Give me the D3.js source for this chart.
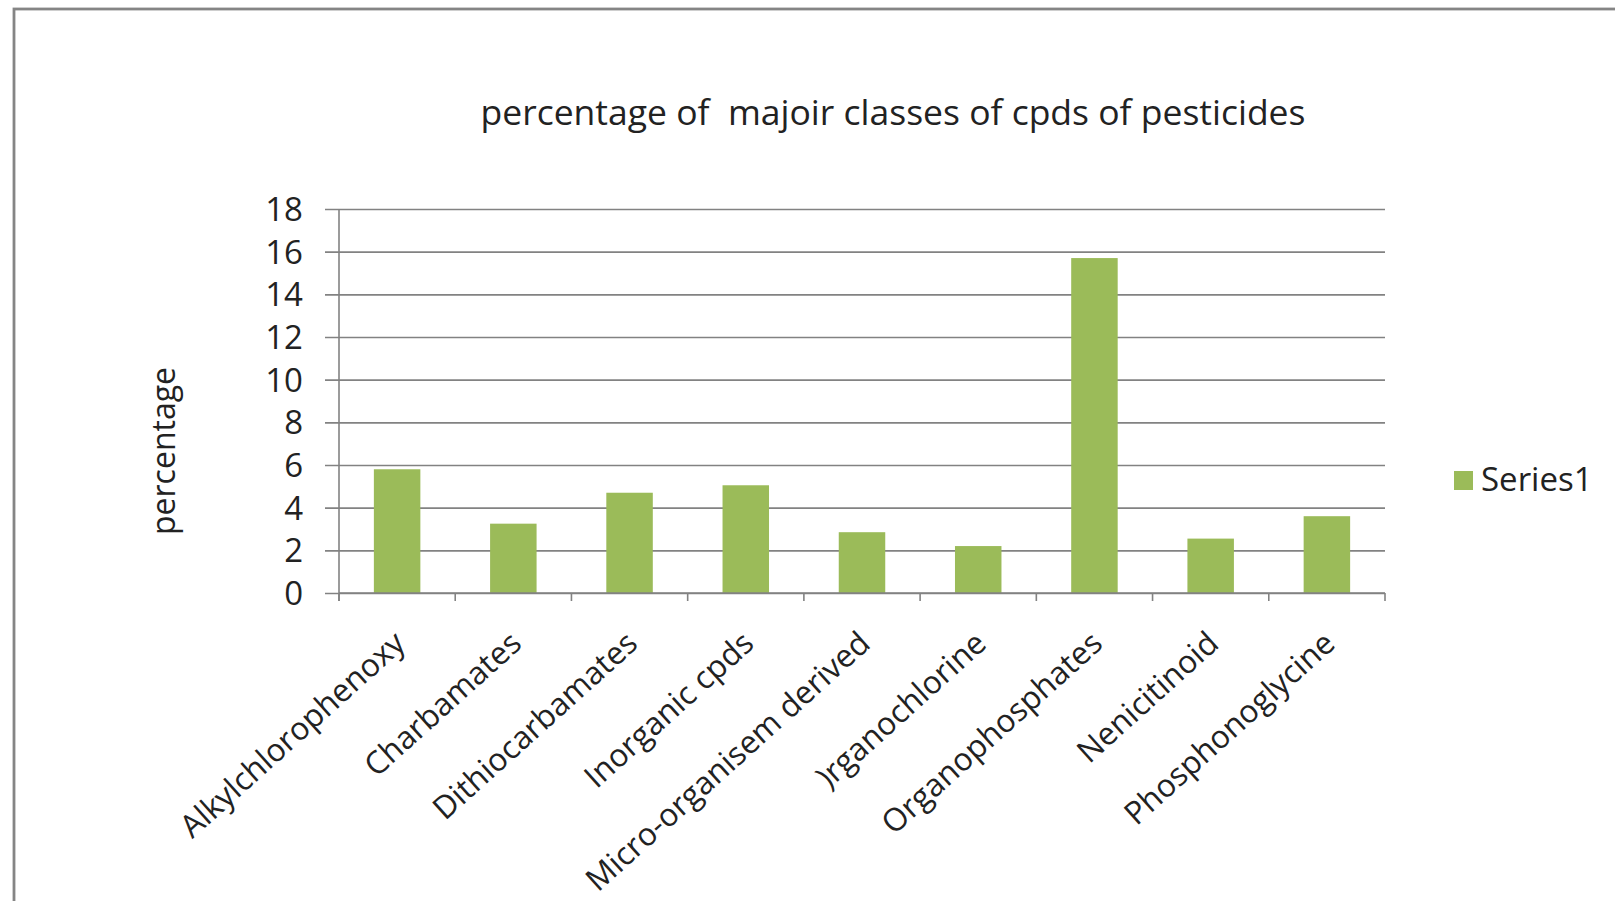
<!DOCTYPE html>
<html>
<head>
<meta charset="utf-8">
<script src="https://cdn.jsdelivr.net/npm/d3@7"></script>
<style>
  html, body { margin: 0; padding: 0; background: #ffffff; }
  svg { display: block; }
  text { font-family: "Open Sans", "Liberation Sans", sans-serif; fill: #222222; white-space: pre; }
</style>
</head>
<body>
<svg id="chart" width="1615" height="901"></svg>
<script>
// Pesticide classes and their share (%)
const categories = [
  "Alkylchlorophenoxy",
  "Charbamates",
  "Dithiocarbamates",
  "Inorganic cpds",
  "Micro-organisem derived",
  ")rganochlorine",
  "Organophosphates",
  "Nenicitinoid",
  "Phosphonoglycine"
];
const values = [5.8, 3.25, 4.7, 5.05, 2.85, 2.2, 15.7, 2.55, 3.6];
const yTicks = [0, 2, 4, 6, 8, 10, 12, 14, 16, 18];
const seriesName = "Series1";
const chartTitle = "percentage of  majoir classes of cpds of pesticides";
const yTitle = "percentage";

const svg = d3.select("#chart");
const barColor = "#9bbb59";
const gridColor = "#828282";

// Chart area frame
svg.append("rect")
  .attr("x", 14).attr("y", 9)
  .attr("width", 1700).attr("height", 1000)
  .attr("fill", "#ffffff")
  .attr("stroke", "#858585")
  .attr("stroke-width", 2.8);

const plot = { left: 339, right: 1385, top: 209, bottom: 593 };

const x = d3.scaleBand()
  .domain(categories)
  .range([plot.left, plot.right])
  .paddingInner(0)
  .paddingOuter(0);

const y = d3.scaleLinear()
  .domain([0, 18])
  .range([plot.bottom, plot.top]);

// Horizontal gridlines with outside ticks
const yAxis = d3.axisLeft(y)
  .tickValues(yTicks)
  .tickSize(-(plot.right - plot.left))
  .tickFormat("");
const gy = svg.append("g")
  .attr("transform", `translate(${plot.left},0)`)
  .call(yAxis);
gy.select(".domain").remove();
gy.selectAll(".tick line")
  .attr("x1", -14)
  .attr("stroke", gridColor)
  .attr("stroke-width", 1.6);

// Y tick labels
svg.append("g").selectAll("text")
  .data(yTicks)
  .join("text")
  .attr("x", 303)
  .attr("y", d => y(d))
  .attr("dy", "0.36em")
  .attr("text-anchor", "end")
  .style("font-size", "33px")
  .text(d => d);

// Bars
const barW = x.bandwidth() * 0.4;
svg.append("g").selectAll("rect")
  .data(values)
  .join("rect")
  .attr("x", (d, i) => x(categories[i]) + (x.bandwidth() - barW) / 2)
  .attr("y", d => y(d))
  .attr("width", barW)
  .attr("height", d => y(0) - y(d))
  .attr("fill", barColor);

// Y axis line
svg.append("line")
  .attr("x1", plot.left).attr("x2", plot.left)
  .attr("y1", plot.top).attr("y2", plot.bottom + 8)
  .attr("stroke", gridColor).attr("stroke-width", 1.6);

// X axis line and category boundary ticks
svg.append("line")
  .attr("x1", plot.left).attr("x2", plot.right)
  .attr("y1", plot.bottom).attr("y2", plot.bottom)
  .attr("stroke", gridColor).attr("stroke-width", 1.6);
const bounds = categories.map(c => x(c)).concat([plot.right]);
svg.append("g").selectAll("line")
  .data(bounds)
  .join("line")
  .attr("x1", d => d).attr("x2", d => d)
  .attr("y1", plot.bottom).attr("y2", plot.bottom + 8)
  .attr("stroke", gridColor).attr("stroke-width", 1.6);

// Rotated category labels
svg.append("g").selectAll("text")
  .data(categories)
  .join("text")
  .attr("text-anchor", "end")
  .attr("transform", d => `translate(${x(d) + x.bandwidth() / 2 + 10},646) rotate(-42)`)
  .style("font-size", "31.6px")
  .text(d => d);

// Title
svg.append("text")
  .attr("x", 893).attr("y", 125)
  .attr("text-anchor", "middle")
  .style("font-size", "35.5px")
  .text(chartTitle);

// Y axis title
svg.append("text")
  .attr("transform", "translate(175,451) rotate(-90)")
  .attr("text-anchor", "middle")
  .style("font-size", "32px")
  .text(yTitle);

// Legend
const legend = svg.append("g");
legend.append("rect")
  .attr("x", 1454).attr("y", 471)
  .attr("width", 19).attr("height", 19)
  .attr("fill", barColor);
legend.append("text")
  .attr("x", 1481).attr("y", 491)
  .style("font-size", "33px")
  .text(seriesName);
</script>
</body>
</html>
